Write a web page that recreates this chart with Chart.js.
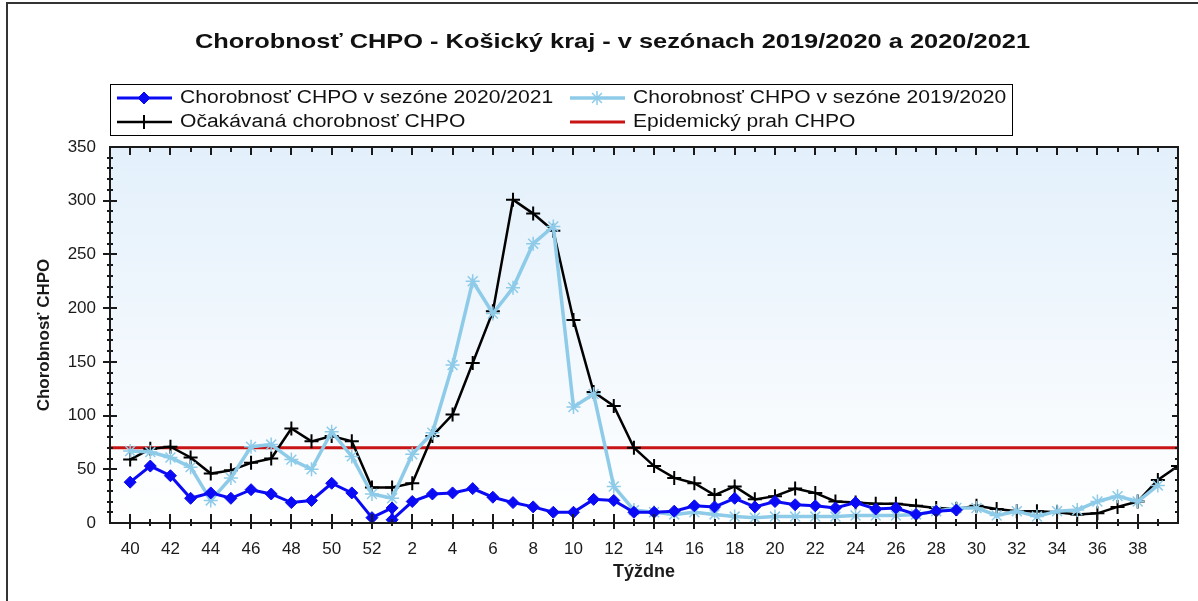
<!DOCTYPE html>
<html>
<head>
<meta charset="utf-8">
<title>Chorobnosť CHPO - Košický kraj</title>
<script src="https://cdn.jsdelivr.net/npm/chart.js@4.4.0/dist/chart.umd.min.js"></script>
<style>
  html, body { margin: 0; padding: 0; background: #fff; }
  #wrap { position: relative; width: 1198px; height: 601px; }
</style>
</head>
<body>
<div id="wrap"><canvas id="chpoChart" width="1198" height="601"></canvas></div>
<script>
// weeks on the x axis (season runs week 40 -> week 39, closes on week 40)
const weekAxis = [40, 41, 42, 43, 44, 45, 46, 47, 48, 49, 50, 51, 52,
  1, 2, 3, 4, 5, 6, 7, 8, 9, 10, 11, 12, 13, 14, 15, 16, 17, 18, 19, 20,
  21, 22, 23, 24, 25, 26, 27, 28, 29, 30, 31, 32, 33, 34, 35, 36, 37, 38, 39, 40];

// season 2020/2021 (has week 53)
const season2021Weeks = [40, 41, 42, 43, 44, 45, 46, 47, 48, 49, 50, 51, 52, 53,
  1, 2, 3, 4, 5, 6, 7, 8, 9, 10, 11, 12, 13, 14, 15, 16, 17, 18, 19, 20,
  21, 22, 23, 24, 25, 26, 27, 28, 29];
const season2021 = [38, 53, 44, 23, 28, 23, 31, 27, 19, 21, 37, 28, 5, 14,
  3, 20, 27, 28, 32, 24, 19, 15, 10, 10, 22, 21, 10, 10, 11, 16, 15, 23, 15, 20,
  17, 16, 14, 19, 13, 14, 8, 11, 12];

// season 2019/2020, weeks 40..39
const season1920 = [67, 66, 61, 52, 21, 42, 71, 73, 59, 50, 85, 62, 27,
  23, 64, 84, 147, 225, 195, 219, 260, 276, 108, 120, 34, 12, 10, 8, 10, 8, 6, 5, 6,
  6, 6, 6, 7, 7, 7, 8, 11, 14, 14, 7, 11, 6, 11, 12, 20, 25, 20, 35];

// expected morbidity, weeks 40..39 and 40
const expected = [59, 69, 71, 61, 46, 49, 56, 60, 88, 76, 81, 76, 33,
  33, 37, 81, 101, 149, 197, 301, 288, 272, 189, 122, 109, 70, 53, 42, 37, 26, 34, 22, 25,
  32, 28, 20, 19, 18, 18, 16, 14, 13, 16, 13, 11, 11, 10, 8, 9, 15, 20, 40, 53];

const threshold = 70;
const yTicks = [0, 50, 100, 150, 200, 250, 300, 350];

const xMin = -1;
const xMax = weekAxis.length - 1;
const weekPos = w => w === 53 ? weekAxis.indexOf(1) : weekAxis.indexOf(w);

const FONT = "'Liberation Sans', Arial, sans-serif";
Chart.defaults.font.family = FONT;
Chart.defaults.color = '#1a1a1a';

// the original image is a bit wider than tall, so its text looks stretched
function fillStretched(ctx, text, x, y, sx) {
    ctx.save();
    ctx.translate(x, y);
    ctx.scale(sx, 1);
    ctx.fillText(text, 0, 0);
    ctx.restore();
}

const plotBackground = {
    id: 'plotBackground',
    beforeDraw(chart) {
        const { ctx, chartArea: a } = chart;
        ctx.save();
        ctx.strokeStyle = '#333';
        ctx.lineWidth = 2;
        ctx.beginPath();
        ctx.moveTo(7, 601);
        ctx.lineTo(7, 3);
        ctx.lineTo(1198, 3);
        ctx.stroke();
        const g = ctx.createLinearGradient(0, a.top, 0, a.bottom);
        g.addColorStop(0, '#e3f0fb');
        g.addColorStop(1, '#ffffff');
        ctx.fillStyle = g;
        ctx.fillRect(a.left, a.top, a.width, a.height);
        ctx.restore();
    }
};

const axisFrame = {
    id: 'axisFrame',
    afterDatasetsDraw(chart) {
        const { ctx, chartArea: a, scales: { x, y } } = chart;
        ctx.save();
        ctx.strokeStyle = '#1a1a1a';
        ctx.lineWidth = 2;
        ctx.strokeRect(a.left, a.top, a.width, a.height);
        ctx.beginPath();
        for (let i = 0; i < weekAxis.length - 1; i++) {
            const px = Math.round(x.getPixelForValue(i));
            const major = weekAxis[i] % 2 === 0;
            ctx.moveTo(px, a.bottom - (major ? 9 : 4));
            ctx.lineTo(px, a.bottom + (major ? 6 : 3));
            ctx.moveTo(px, a.top);
            ctx.lineTo(px, a.top + (major ? 8 : 5));
        }
        for (let v = 10; v < 350; v += 10) {
            const py = Math.round(y.getPixelForValue(v));
            const major = v % 50 === 0;
            ctx.moveTo(a.left - (major ? 7 : 3), py);
            ctx.lineTo(a.left + (major ? 7 : 3), py);
            ctx.moveTo(a.right - (major ? 6 : 3), py);
            ctx.lineTo(a.right, py);
        }
        ctx.stroke();
        ctx.restore();
    }
};

const titleAndLegend = {
    id: 'titleAndLegend',
    afterDraw(chart) {
        const { ctx } = chart;
        const title = 'Chorobnosť CHPO - Košický kraj - v sezónach 2019/2020 a 2020/2021';
        ctx.save();
        ctx.fillStyle = '#111';
        ctx.font = 'bold 21px ' + FONT;
        ctx.textAlign = 'left';
        ctx.textBaseline = 'middle';
        const tw = ctx.measureText(title).width;
        fillStretched(ctx, title, 195, 42, 835 / tw);

        ctx.strokeStyle = '#000';
        ctx.lineWidth = 1;
        ctx.strokeRect(110.5, 84.5, 902, 51);

        const cols = [117, 570], rows = [98, 122];
        ctx.font = '18px ' + FONT;
        chart.data.datasets.forEach((ds, k) => {
            const lx = cols[k % 2], ly = rows[Math.floor(k / 2)];
            ctx.strokeStyle = ds.borderColor;
            ctx.lineWidth = ds.borderWidth;
            ctx.beginPath();
            ctx.moveTo(lx, ly);
            ctx.lineTo(lx + 55, ly);
            ctx.stroke();
            if (ds.pointRadius > 0) {
                ctx.fillStyle = ds.pointBackgroundColor;
                ctx.strokeStyle = ds.borderColor;
                ctx.lineWidth = ds.pointBorderWidth;
                Chart.helpers.drawPoint(ctx, {
                    pointStyle: ds.pointStyle, radius: ds.pointRadius,
                    borderWidth: ds.pointBorderWidth, rotation: 0
                }, lx + 27, ly);
            }
            ctx.fillStyle = '#111';
            fillStretched(ctx, ds.label, lx + 63, ly, 1.17);
        });
        ctx.restore();
    }
};

new Chart(document.getElementById('chpoChart'), {
    type: 'line',
    data: {
        datasets: [{
            label: 'Chorobnosť CHPO v sezóne 2020/2021',
            data: season2021Weeks.map((w, i) => ({ x: weekPos(w), y: season2021[i] })),
            borderColor: '#0a0af5',
            pointBackgroundColor: '#0a0af5',
            borderWidth: 3,
            pointStyle: 'rectRot',
            pointRadius: 6,
            pointBorderWidth: 1
        }, {
            label: 'Chorobnosť CHPO v sezóne 2019/2020',
            data: season1920.map((v, i) => ({ x: i, y: v })),
            borderColor: '#8ecbe8',
            pointBackgroundColor: '#8ecbe8',
            borderWidth: 3.5,
            pointStyle: 'star',
            pointRadius: 7,
            pointBorderWidth: 1.5
        }, {
            label: 'Očakávaná chorobnosť CHPO',
            data: expected.map((v, i) => ({ x: i, y: v })),
            borderColor: '#000000',
            pointBackgroundColor: '#000000',
            borderWidth: 2.5,
            pointStyle: 'cross',
            pointRadius: 7,
            pointBorderWidth: 2
        }, {
            label: 'Epidemický prah CHPO',
            data: [{ x: xMin, y: threshold }, { x: xMax, y: threshold }],
            borderColor: '#c81414',
            borderWidth: 3,
            pointRadius: 0
        }]
    },
    options: {
        responsive: false,
        animation: false,
        events: [],
        layout: { padding: { top: 147, right: 20, bottom: 0, left: 0 } },
        elements: { line: { tension: 0 } },
        plugins: {
            legend: { display: false },
            title: { display: false },
            tooltip: { enabled: false }
        },
        scales: {
            x: {
                type: 'linear',
                min: xMin,
                max: xMax,
                afterFit: s => { s.height = 78; },
                afterBuildTicks: s => { s.ticks = weekAxis.map((w, i) => ({ value: i })); },
                grid: { display: false, drawTicks: false },
                border: { display: false },
                ticks: {
                    autoSkip: false,
                    maxRotation: 0,
                    padding: 16,
                    font: { size: 17 },
                    callback: v => (v >= 0 && v < xMax && weekAxis[v] % 2 === 0) ? String(weekAxis[v]) : ''
                },
                title: {
                    display: true, text: 'Týždne',
                    font: { size: 18, weight: 'bold' },
                    padding: { top: 0, bottom: 18 }
                }
            },
            y: {
                min: 0,
                max: 350,
                afterFit: s => { s.width = 110; },
                afterBuildTicks: s => { s.ticks = yTicks.map(v => ({ value: v })); },
                grid: { display: false, drawTicks: false },
                border: { display: false },
                ticks: { padding: 14, font: { size: 17 } },
                title: {
                    display: true, text: 'Chorobnosť CHPO',
                    font: { size: 17, weight: 'bold' },
                    padding: { top: 34, bottom: 0 }
                }
            }
        }
    },
    plugins: [plotBackground, axisFrame, titleAndLegend]
});
</script>
</body>
</html>
